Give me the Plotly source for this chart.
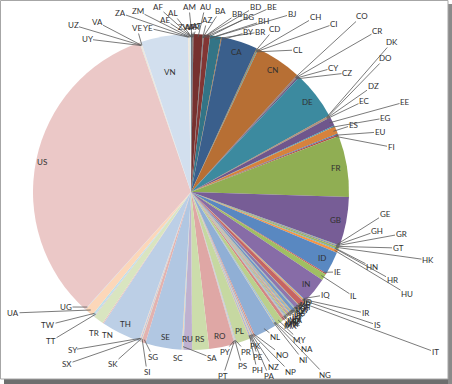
import math
import plotly.graph_objects as go

# ---------------- data (share of traffic by country) ----------------
countries = [
    "AE", "AF", "AL", "AM", "AP", "AR", "AT", "AU", "AZ", "BA", "BB", "BD", "BE", "BG", "BH", "BJ",
    "BR", "BY", "CA", "CD", "CH", "CI", "CL", "CN", "CO", "CR", "CY", "CZ", "DE", "DK", "DO", "DZ",
    "EC", "EE", "EG", "ES", "EU", "FI", "FR", "GB", "GE", "GH", "GR", "GT", "HK", "HN", "HR", "HU",
    "ID", "IE", "IL", "IN", "IQ", "IR", "IS", "IT", "JO", "JP", "KE", "KH", "KR", "KW", "KZ", "LB",
    "LK", "LT", "LU", "LV", "MA", "MD", "MK", "MN", "MT", "MX", "MY", "NA", "NG", "NI", "NL", "NO",
    "NP", "NZ", "PA", "PE", "PH", "PK", "PL", "PR", "PS", "PT", "PY", "RO", "RS", "RU", "SA", "SC",
    "SE", "SG", "SI", "SK", "SX", "SY", "TH", "TN", "TR", "TT", "TW", "UA", "UG", "US", "UY", "UZ",
    "VA", "VE", "VN", "YE", "ZA", "ZM", "ZW",
]
values = [
    0.25, 0.05, 0.05, 0.1, 0.1, 0.15, 0.2, 3.4, 0.05, 0.05, 0.05, 0.1, 0.15, 2.2, 0.05, 0.05,
    4.0, 0.3, 13.2, 0.15, 0.3, 0.1, 0.2, 16.95, 0.2, 0.2, 0.15, 0.6, 17.65, 0.3, 0.1, 0.2,
    0.2, 3.3, 0.4, 2.8, 0.4, 0.5, 22.6, 18.0, 0.2, 0.2, 0.3, 0.1, 0.6, 0.1, 0.3, 1.0,
    8.4, 0.5, 2.3, 9.6, 0.2, 0.5, 0.2, 2.0, 0.2, 1.5, 0.3, 0.2, 1.2, 0.2, 0.3, 0.3,
    0.4, 0.4, 0.3, 0.3, 0.5, 0.3, 0.3, 0.2, 0.2, 1.1, 2.5, 0.2, 0.4, 0.2, 8.2, 0.5,
    0.2, 0.4, 0.2, 0.3, 0.4, 0.2, 5.0, 0.2, 0.2, 0.2, 0.2, 9.4, 6.2, 3.2, 0.3, 0.3,
    13.4, 1.5, 0.2, 0.4, 0.1, 0.2, 14.4, 0.4, 3.8, 0.3, 0.7, 3.1, 0.2, 118.9, 0.2, 0.1,
    0.1, 0.2, 17.3, 0.2, 0.4, 0.15, 0.35,
]

# ---------------- layout / style ----------------
W, H = 452, 384
CX, CY, R = 191, 192, 158          # pie centre and radius in pixels
FONT = dict(family="Lato, 'Liberation Sans', sans-serif", size=8, color="#303030")

accents = [(0x4F, 0x81, 0xBD), (0xC0, 0x50, 0x4D), (0x9B, 0xBB, 0x59),
           (0x80, 0x64, 0xA2), (0x4B, 0xAC, 0xC6), (0xF7, 0x96, 0x46)]


def excel_color(i):
    base = accents[i % 6]
    b = -0.45 + 0.063 * (i // 6)
    if b < 0:
        rgb = [round(v * (1 + b)) for v in base]
    else:
        rgb = [round(v + (255 - v) * b) for v in base]
    return "rgb(%d,%d,%d)" % tuple(rgb)


colors = [excel_color(i) for i in range(len(countries))]

inside_radius = {"CA": 0.93, "CN": 0.93, "DE": 0.93, "FR": 0.93, "GB": 0.93, "ID": 0.93, "IN": 0.93,
                 "US": 0.96, "TH": 0.93, "SE": 0.93, "RU": 0.93, "RS": 0.93, "RO": 0.93, "PL": 0.93,
                 "VN": 0.77}
plain_labels = {"TR": (94, 333), "TN": (107, 335), "SC": (178, 358)}
label_pos = {
    "AE": (165, 20), "AF": (158, 7), "AL": (173, 13), "AM": (189, 7), "AP": (190, 27), "AR": (194, 27),
    "AT": (197, 26), "AU": (205, 7), "AZ": (207, 20), "BA": (220, 11), "BB": (237, 14), "BD": (255, 7),
    "BE": (272, 7), "BG": (248, 17), "BH": (263, 21), "BJ": (292, 14), "BR": (260, 32), "BY": (248, 32),
    "CD": (274, 29), "CH": (315, 17), "CI": (334, 24), "CL": (297, 50), "CO": (362, 16), "CR": (377, 31),
    "CY": (333, 68), "CZ": (347, 73), "DK": (392, 42), "DO": (385, 58), "DZ": (373, 86), "EC": (364, 101),
    "EE": (405, 102), "EG": (385, 118), "ES": (353, 125), "EU": (380, 132), "FI": (391, 147),
    "GE": (385, 214), "GH": (377, 231), "GR": (401, 234), "GT": (398, 248), "HK": (428, 260),
    "HN": (372, 267), "HR": (392, 280), "HU": (407, 294), "IE": (337, 272), "IL": (353, 296),
    "IQ": (325, 295), "IR": (365, 313), "IS": (377, 325), "IT": (435, 352),
    "JO": (307, 302), "JP": (306, 304), "KE": (305, 305), "KH": (304, 307), "KR": (303, 308),
    "KW": (302, 310), "KZ": (301, 311), "LB": (300, 313), "LK": (299, 314), "LT": (298, 316),
    "LU": (297, 317), "LV": (296, 319), "MA": (295, 320), "MD": (294, 321), "MK": (293, 323),
    "MN": (292, 324), "MT": (291, 325), "MX": (290, 326),
    "MY": (299, 340), "NA": (307, 349), "NG": (325, 375), "NI": (303, 360), "NL": (275, 337),
    "NO": (282, 355), "NP": (290, 372), "NZ": (273, 367), "PA": (269, 376), "PE": (258, 357),
    "PH": (257, 370), "PK": (255, 346), "PR": (246, 352), "PS": (242, 366), "PT": (223, 376),
    "PY": (225, 352), "SA": (212, 358), "SG": (153, 357), "SI": (147, 372), "SK": (113, 364),
    "SX": (67, 364), "SY": (72, 350), "TT": (51, 341), "TW": (48, 325), "UA": (13, 313),
    "UG": (66, 307), "UY": (87, 39), "UZ": (73, 25), "VA": (97, 22), "VE": (137, 28),
    "YE": (148, 28), "ZA": (120, 13), "ZM": (138, 11), "ZW": (185, 27),
}


def px(x):
    return x / W


def py(y):
    return 1 - y / H


fig = go.Figure(go.Pie(
    labels=countries, values=values, sort=False, direction="clockwise", rotation=0,
    marker=dict(colors=colors, line=dict(width=0)), textinfo="none", hoverinfo="label+percent",
    domain=dict(x=[px(CX - R), px(CX + R)], y=[py(CY + R), py(CY - R)]),
))

annotations = []
total = sum(values)
cum = 0.0
for name, v in zip(countries, values):
    mid = math.radians((cum + v / 2) / total * 360.0)
    cum += v
    if name in inside_radius:
        rr = inside_radius[name] * R
        annotations.append(dict(x=px(CX + rr * math.sin(mid)), y=py(CY - rr * math.cos(mid)),
                                xref="paper", yref="paper", xanchor="center", yanchor="middle",
                                text=name, showarrow=False, font=FONT))
    elif name in plain_labels:
        lx, ly = plain_labels[name]
        annotations.append(dict(x=px(lx), y=py(ly), xref="paper", yref="paper", xanchor="center",
                                yanchor="middle", text=name, showarrow=False, font=FONT))
    else:
        ax_, ay_ = CX + 0.98 * R * math.sin(mid), CY - 0.98 * R * math.cos(mid)
        lx, ly = label_pos[name]
        annotations.append(dict(x=px(ax_), y=py(ay_), xref="paper", yref="paper", text=name,
                                showarrow=True, arrowhead=0, arrowwidth=0.8, arrowcolor="#595959",
                                ax=lx - ax_, ay=ly - ay_, standoff=0, startstandoff=0,
                                borderpad=0, font=FONT))

shapes = [
    dict(type="rect", xref="paper", yref="paper", x0=px(4), x1=px(452), y0=py(384), y1=py(379),
         fillcolor="#6e6e6e", line=dict(width=0), layer="below"),
    dict(type="rect", xref="paper", yref="paper", x0=px(448), x1=px(452), y0=py(384), y1=py(4),
         fillcolor="#8a8a8a", line=dict(width=0), layer="below"),
    dict(type="rect", xref="paper", yref="paper", x0=px(0.5), x1=px(448), y0=py(379), y1=py(0.5),
         fillcolor="white", line=dict(color="#a6a6a6", width=1), layer="below"),
]

fig.update_layout(
    width=W, height=H, margin=dict(l=0, r=0, t=0, b=0),
    paper_bgcolor="white", plot_bgcolor="white", showlegend=False,
    annotations=annotations, shapes=shapes,
)
fig.write_html("out.html", config={"displayModeBar": False},
               post_script="document.body.style.margin='0';document.body.style.overflow='hidden';")
